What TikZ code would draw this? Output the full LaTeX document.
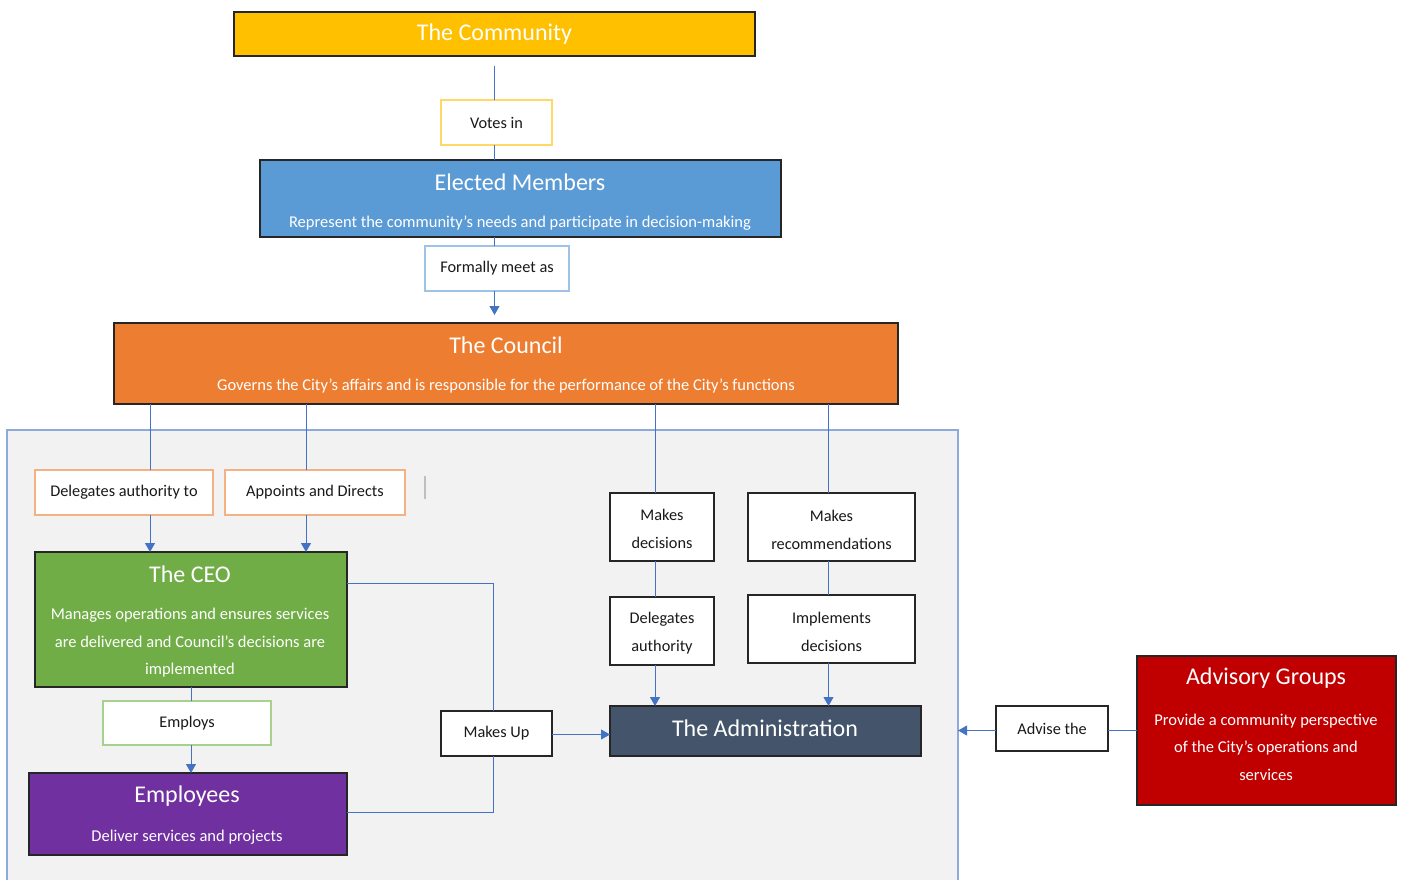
\documentclass[tikz,border=0pt]{standalone}
\usepackage{fontspec}
\setmainfont{Carlito}
\usetikzlibrary{arrows.meta}
\definecolor{cCommunity}{HTML}{FFC000}
\definecolor{cElected}{HTML}{5B9BD5}
\definecolor{cCouncil}{HTML}{ED7D31}
\definecolor{cCeo}{HTML}{70AD47}
\definecolor{cEmployees}{HTML}{7030A0}
\definecolor{cAdmin}{HTML}{44546A}
\definecolor{cAdvisory}{HTML}{C00000}
\definecolor{cConn}{HTML}{4472C4}
\definecolor{cRegion}{HTML}{F2F2F2}
\definecolor{cRegionLine}{HTML}{8EA9DB}
\definecolor{cBoxLine}{HTML}{262626}
\definecolor{cYellowLine}{HTML}{FFD966}
\definecolor{cBlueLine}{HTML}{9DC3E6}
\definecolor{cOrangeLine}{HTML}{F4B183}
\definecolor{cGreenLine}{HTML}{A9D18E}
\newcommand\ttlfont{\fontsize{24}{28}\selectfont}
\newcommand\subfont{\fontsize{16.5}{27.5}\selectfont}
\newcommand\lblfont{\fontsize{16.3}{28}\selectfont}
\begin{document}
\begin{tikzpicture}[x=1pt,y=-1pt,
  box/.style={draw=cBoxLine, line width=1.3pt, inner sep=0pt, outer sep=0pt},
  lbl/.style={fill=white, line width=1.1pt, inner sep=0pt, outer sep=0pt, font=\lblfont, align=center, text=black!90},
  blk/.style={lbl, draw=cBoxLine, line width=1.3pt},
  blktxt/.style={font=\lblfont, align=center, text=black!90, inner sep=0pt},
  conn/.style={draw=cConn, line width=0.9pt},
  arr/.style={conn, -{Triangle[width=10pt,length=9pt]}},
  ttl/.style={text=white, font=\ttlfont, inner sep=0pt},
  sub/.style={text=white, font=\subfont, align=center, inner sep=0pt}]
\useasboundingbox (0,0) rectangle (1402,879);

% grey region
\node[draw=cRegionLine, fill=cRegion, line width=2pt, inner sep=0pt, outer sep=0pt,
  minimum width=951pt, minimum height=470pt, anchor=north west] (region) at (7,430) {};

% main boxes
\node[box, fill=cCommunity, minimum width=521pt, minimum height=44pt] (community) at (494.5,34) {};
\node[ttl] (communityT) at (494.5,34) {The Community};

\node[box, fill=cElected, minimum width=521pt, minimum height=77pt] (elected) at (520.5,198.5) {};
\node[ttl] (electedT) at (520,182) {Elected Members};
\node[sub] (electedS) at (520,223) {Represent the community’s needs and participate in decision-making};

\node[box, fill=cCouncil, minimum width=784pt, minimum height=81pt] (council) at (506,363.5) {};
\node[ttl] (councilT) at (506,345) {The Council};
\node[sub] (councilS) at (506,386) {Governs the City’s affairs and is responsible for the performance of the City’s functions};

\node[box, fill=cCeo, minimum width=312pt, minimum height=135pt] (ceo) at (191,619.5) {};
\node[ttl] (ceoT) at (190,574) {The CEO};
\node[sub] (ceoS) at (190,643) {Manages operations and ensures services\\are delivered and Council’s decisions are\\implemented};

\node[box, fill=cEmployees, minimum width=318pt, minimum height=82pt] (employees) at (188,814) {};
\node[ttl] (employeesT) at (187,796) {Employees};
\node[sub] (employeesS) at (187,837) {Deliver services and projects};

\node[box, fill=cAdmin, minimum width=311pt, minimum height=50pt] (admin) at (765.5,731) {};
\node[ttl] (adminT) at (765,728) {The Administration};

\node[box, fill=cAdvisory, minimum width=259pt, minimum height=149pt] (advisory) at (1266.5,730.5) {};
\node[ttl] (advisoryT) at (1266,678) {Advisory Groups};
\node[sub] (advisoryS) at (1266,747) {Provide a community perspective\\of the City’s operations and\\services};

% label boxes
\node[lbl, draw=cYellowLine, minimum width=111pt, minimum height=45pt] (votes) at (496.5,122.5) {Votes in};
\node[lbl, draw=cBlueLine, minimum width=144pt, minimum height=45pt] (formally) at (497,268.5) {Formally meet as};
\node[lbl, draw=cOrangeLine, minimum width=178pt, minimum height=45pt] (dauth) at (124,492.5) {Delegates authority to};
\node[lbl, draw=cOrangeLine, minimum width=180pt, minimum height=45pt] (appoints) at (315,492.5) {Appoints and Directs};
\node[blk, minimum width=104pt, minimum height=68pt] (mdec) at (662,527) {};
\node[blktxt] (mdecT) at (662,529) {Makes\\decisions};
\node[blk, minimum width=167pt, minimum height=68pt] (mrec) at (831.5,527) {};
\node[blktxt] (mrecT) at (831.5,530) {Makes\\recommendations};
\node[blk, minimum width=104pt, minimum height=68pt] (dauth2) at (662,631) {};
\node[blktxt] (dauth2T) at (662,633) {Delegates\\authority};
\node[blk, minimum width=167pt, minimum height=68pt] (impl) at (831.5,629) {};
\node[blktxt] (implT) at (831.5,632) {Implements\\decisions};
\node[lbl, draw=cGreenLine, minimum width=168pt, minimum height=44pt] (employs) at (187,723) {Employs};
\node[blk, minimum width=111pt, minimum height=45pt] (makesup) at (496.5,733.5) {Makes Up};
\node[blk, minimum width=112pt, minimum height=45pt] (advise) at (1052,728.5) {Advise the};

% stray mark
\draw[black!25, line width=1.5pt] (425,476) -- (425,499);

% connectors
\coordinate (xm) at (494.5,66);
\coordinate (xa) at (150,0);
\coordinate (xb) at (306,0);
\coordinate (xc) at (655,0);
\coordinate (xd) at (828.5,0);
\draw[conn] (xm) -- (votes.north -| xm);
\draw[conn] (votes.south -| xm) -- (elected.north -| xm);
\draw[conn] (elected.south -| xm) -- (formally.north -| xm);
\draw[arr, shorten >=8pt] (formally.south -| xm) -- (council.north -| xm);

\draw[conn] (council.south -| xa) -- (dauth.north -| xa);
\draw[arr] (dauth.south -| xa) -- (ceo.north -| xa);
\draw[conn] (council.south -| xb) -- (appoints.north -| xb);
\draw[arr] (appoints.south -| xb) -- (ceo.north -| xb);

\draw[conn] (council.south -| xc) -- (mdec.north -| xc);
\draw[conn] (mdec.south -| xc) -- (dauth2.north -| xc);
\draw[arr] (dauth2.south -| xc) -- (admin.north -| xc);
\draw[conn] (council.south -| xd) -- (mrec.north -| xd);
\draw[conn] (mrec.south -| xd) -- (impl.north -| xd);
\draw[arr] (impl.south -| xd) -- (admin.north -| xd);

\draw[conn] ([yshift=36.5pt]ceo.east) -| ([xshift=-3.5pt]makesup.north);
\draw[conn] ([xshift=-3.5pt]makesup.south) |- ([yshift=2pt]employees.east);
\draw[arr] ([yshift=-1pt]makesup.east) -- ([yshift=-1pt]makesup.east -| admin.west);

\draw[conn] (ceo.south) -- (employs.north -| ceo.south);
\draw[arr] (employs.south -| ceo.south) -- (employees.north -| ceo.south);

\draw[conn] (advisory.west) -- (advise.east |- advisory.west);
\draw[arr] (advise.west |- advisory.west) -- (region.east |- advisory.west);
\end{tikzpicture}
\end{document}
